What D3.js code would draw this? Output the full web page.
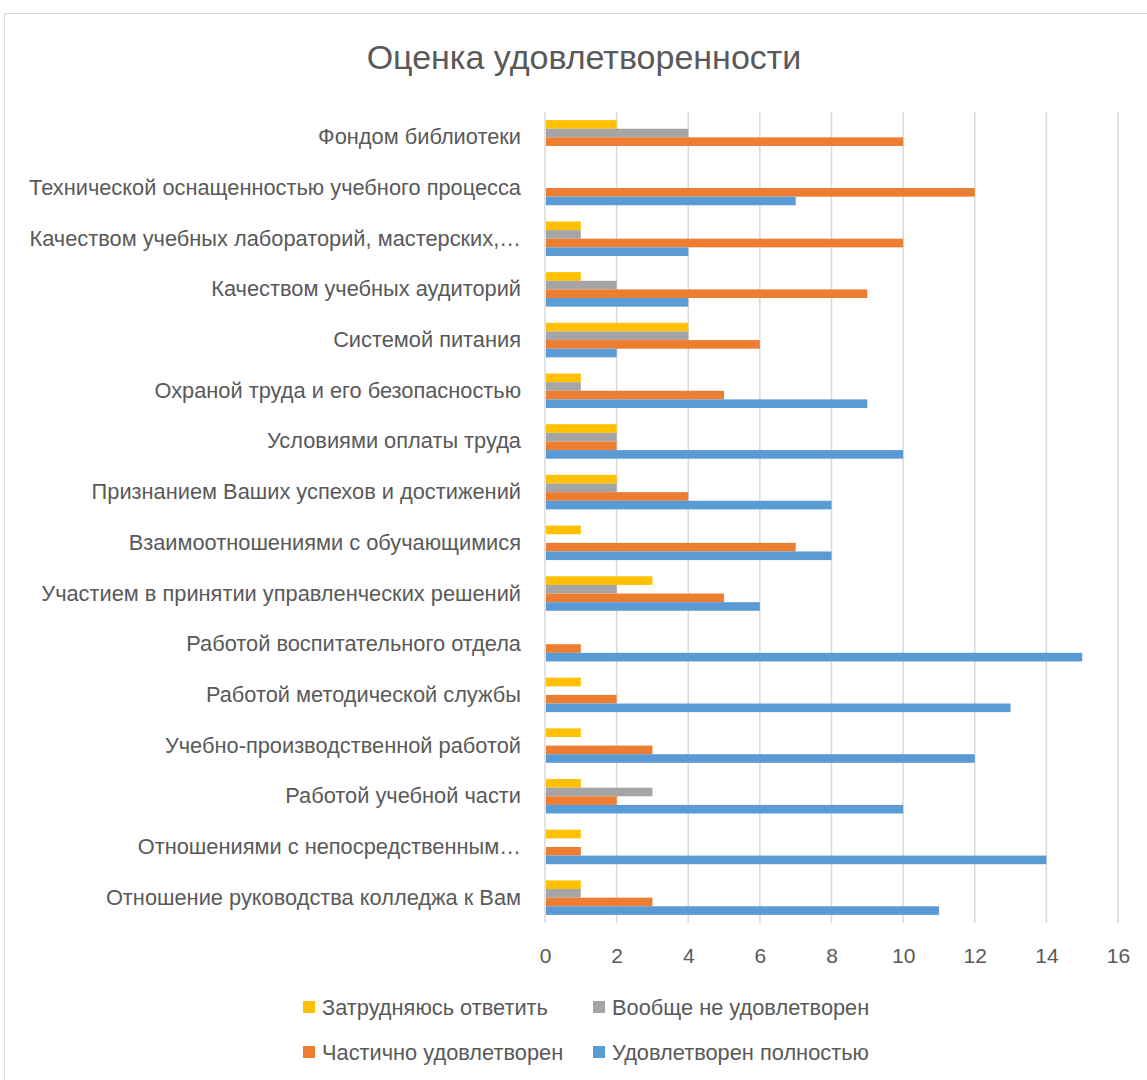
<!DOCTYPE html>
<html><head><meta charset="utf-8">
<script src="https://cdn.jsdelivr.net/npm/d3@7"></script>
<style>body{margin:0;background:#fff;} svg{display:block;}</style>
</head><body>
<svg id="c" width="1147" height="1080"></svg>
<script>
const categories = [
  "Фондом библиотеки",
  "Технической оснащенностью учебного процесса",
  "Качеством учебных лабораторий, мастерских,…",
  "Качеством учебных аудиторий",
  "Системой питания",
  "Охраной труда и его безопасностью",
  "Условиями оплаты труда",
  "Признанием Ваших успехов и достижений",
  "Взаимоотношениями с обучающимися",
  "Участием в принятии управленческих решений",
  "Работой воспитательного отдела",
  "Работой методической службы",
  "Учебно-производственной работой",
  "Работой учебной части",
  "Отношениями с непосредственным…",
  "Отношение руководства колледжа к Вам"
];
const seriesNames = ["Затрудняюсь ответить","Вообще не удовлетворен","Частично удовлетворен","Удовлетворен полностью"];
const seriesColors = ["#FFC000","#A5A5A5","#ED7D31","#5B9BD5"];
const hardToSay    = [2,0,1,1,4,1,2,2,1,3,0,1,1,1,1,1];
const notSatisfied = [4,0,1,2,4,1,2,2,0,2,0,0,0,3,0,1];
const partially    = [10,12,10,9,6,5,2,4,7,5,1,2,3,2,1,3];
const fully        = [0,7,4,4,2,9,10,8,8,6,15,13,12,10,14,11];
const xTicks = [0,2,4,6,8,10,12,14,16];

const seriesValues = [hardToSay, notSatisfied, partially, fully];
const svg = d3.select("#c");
const font = "'Liberation Sans', Arial, sans-serif";
const txt = "#595959";

svg.append("rect").attr("x",4.5).attr("y",13.5).attr("width",1160).attr("height",1100)
  .attr("fill","#fff").attr("stroke","#D9D9D9").attr("stroke-width",1);

svg.append("text").attr("x",584).attr("y",69).attr("text-anchor","middle")
  .attr("font-family",font).attr("font-size",34).attr("fill",txt).text("Оценка удовлетворенности");

const x = d3.scaleLinear().domain([0,16]).range([545,1118]);
const y = d3.scaleBand().domain(categories).range([112,923]).paddingInner(0.32).paddingOuter(0.16);
const ys = d3.scaleBand().domain(d3.range(4)).range([0,y.bandwidth()]);

// gridlines
svg.append("g").selectAll("line").data(xTicks).join("line")
  .attr("x1",d=>x(d)).attr("x2",d=>x(d)).attr("y1",112).attr("y2",923)
  .attr("stroke","#D9D9D9").attr("stroke-width",1.5);

// bars
const g = svg.append("g");
seriesValues.forEach((vals,si)=>{
  g.selectAll(null).data(vals.map((v,i)=>({v,c:categories[i]}))).join("rect")
    .attr("x",x(0)+1).attr("y",d=>y(d.c)+ys(si))
    .attr("width",d=>Math.max(0,x(d.v)-x(0)-1)).attr("height",ys.bandwidth())
    .attr("fill",seriesColors[si]);
});

// x axis
const xa = svg.append("g").attr("transform","translate(0,923)")
  .call(d3.axisBottom(x).tickValues(xTicks).tickSize(0).tickPadding(25));
xa.select(".domain").remove();
xa.selectAll("text").attr("font-family",font).attr("font-size",21).attr("fill",txt);

// y axis labels
const ya = svg.append("g").attr("transform","translate(545,0)")
  .call(d3.axisLeft(y).tickSize(0).tickPadding(24));
ya.select(".domain").remove();
ya.selectAll("text").attr("font-family",font).attr("font-size",21.8).attr("fill",txt);

// legend
const legPos = [[303,1007],[593,1007],[303,1052],[593,1052]];
const leg = svg.append("g");
seriesNames.forEach((n,i)=>{
  const [lx,ly] = legPos[i];
  leg.append("rect").attr("x",lx).attr("y",ly-6).attr("width",12).attr("height",12).attr("fill",seriesColors[i]);
  leg.append("text").attr("x",lx+19).attr("y",ly).attr("dy","0.35em")
    .attr("font-family",font).attr("font-size",21.8).attr("fill",txt).text(n);
});
</script>
</body></html>
